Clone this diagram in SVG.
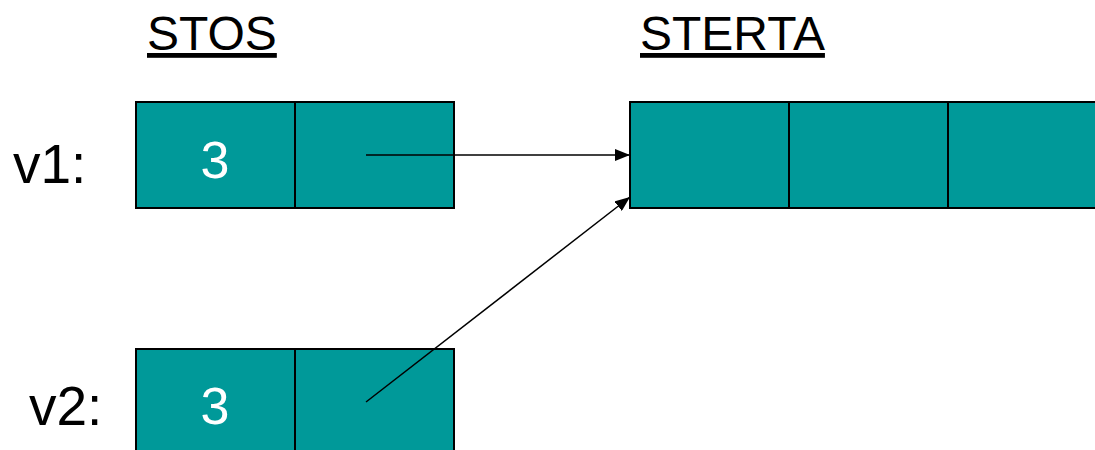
<svg xmlns="http://www.w3.org/2000/svg" width="1095" height="450" viewBox="0 0 1095 450">
  <defs>
    <style>
      .lbl { font-family: "Liberation Sans", Arial, sans-serif; font-size: 48px; fill: #000; }
      .head { text-decoration: underline; }
      .var { font-size: 55px; }
      .val { font-family: "Liberation Sans", Arial, sans-serif; font-size: 52px; fill: #fff; text-anchor: middle; }
      .cell { fill: #009999; stroke: #000; stroke-width: 2; }
      .link { stroke: #000; stroke-width: 1.5; fill: none; marker-end: url(#arrow); }
    </style>
    <marker id="arrow" viewBox="0 0 10 10" refX="10" refY="5" markerWidth="15" markerHeight="12" markerUnits="userSpaceOnUse" orient="auto" preserveAspectRatio="none">
      <path d="M0,0 L10,5 L0,10 z" fill="#000"/>
    </marker>
  </defs>

  <text class="lbl head" x="147" y="50">STOS</text>
  <text class="lbl head" x="640" y="50">STERTA</text>

  <g id="v1">
    <text class="lbl var" x="13" y="183">v1:</text>
    <rect class="cell" x="136" y="102" width="159" height="106"/>
    <rect class="cell" x="295" y="102" width="159" height="106"/>
    <text class="val" x="215" y="178">3</text>
  </g>

  <g id="v2">
    <text class="lbl var" x="29" y="425">v2:</text>
    <rect class="cell" x="136" y="349" width="159" height="110"/>
    <rect class="cell" x="295" y="349" width="159" height="110"/>
    <text class="val" x="215" y="424">3</text>
  </g>

  <g id="sterta">
    <rect class="cell" x="630" y="102" width="159" height="106"/>
    <rect class="cell" x="789" y="102" width="159" height="106"/>
    <rect class="cell" x="948" y="102" width="159" height="106"/>
  </g>

  <g id="connectors">
    <line class="link" x1="366" y1="155" x2="630" y2="155"/>
    <line class="link" x1="366" y1="402" x2="630" y2="197"/>
  </g>
</svg>
